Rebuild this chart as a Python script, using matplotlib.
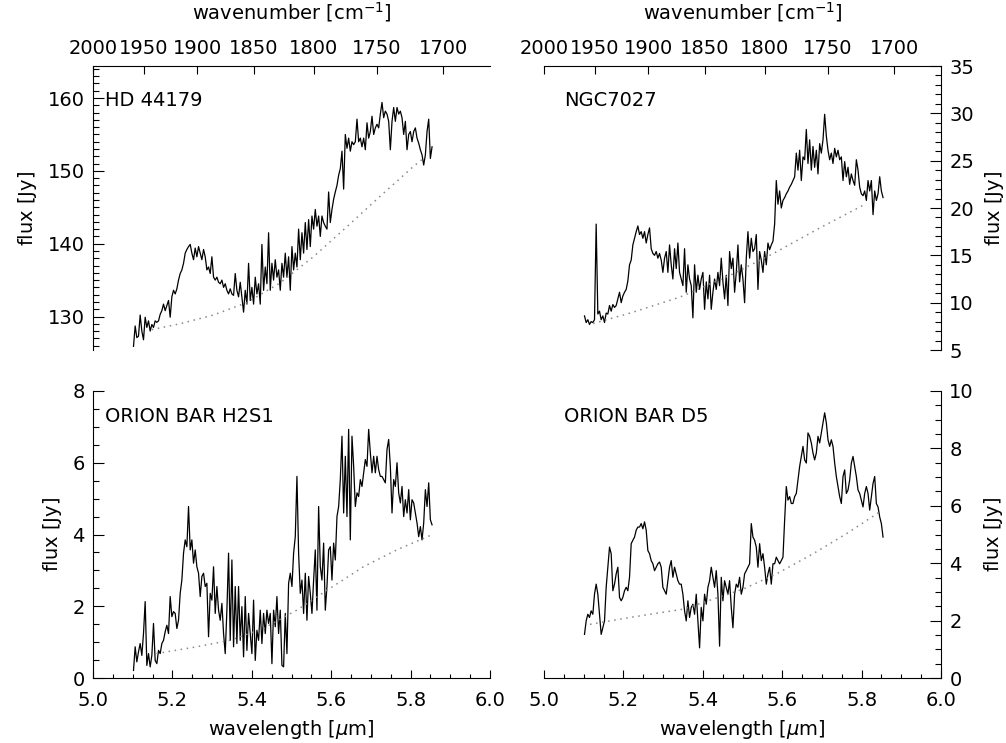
import numpy as np
import matplotlib
matplotlib.use('Agg')
import matplotlib.pyplot as plt
from matplotlib.ticker import MultipleLocator, NullLocator

# wavelength grid of the traced spectra (micron)
WAVE_START = 5.102
WAVE_END = 5.854
N_POINTS = 180

WAVENUMBERS = [2000, 1950, 1900, 1850, 1800, 1750, 1700]

FLUX_HD44179 = [
    125.9, 128.7, 127.1, 127.3, 130.2, 128.0, 126.8, 129.9, 128.5, 129.4,
    128.0, 128.9, 128.5, 129.4, 129.2, 129.4, 130.3, 130.8, 131.7, 130.8,
    131.5, 132.2, 129.9, 132.7, 133.6, 133.1, 133.8, 135.0, 135.9, 136.4,
    137.3, 138.7, 139.2, 139.6, 139.9, 138.7, 137.8, 139.4, 138.2, 139.6,
    138.7, 137.8, 139.2, 138.2, 136.4, 136.8, 135.9, 138.2, 135.4, 135.0,
    135.4, 134.7, 134.5, 135.0, 134.0, 134.5, 133.6, 133.1, 133.8, 133.1,
    132.9, 135.9, 133.6, 132.7, 134.7, 132.7, 130.6, 133.6, 131.7, 137.3,
    132.2, 134.0, 131.7, 135.4, 133.1, 134.5, 131.7, 139.9, 133.6, 136.8,
    134.5, 141.5, 133.6, 137.3, 135.0, 137.8, 135.4, 136.4, 133.6, 137.3,
    135.4, 138.7, 135.4, 138.2, 133.6, 139.6, 136.4, 138.7, 136.8, 142.0,
    137.8, 141.5, 138.7, 142.9, 139.2, 143.3, 139.6, 143.8, 142.0, 144.7,
    142.4, 143.8, 141.0, 143.8, 142.9, 142.4, 142.0, 147.1, 142.9, 144.7,
    146.1, 147.1, 148.0, 149.4, 150.3, 152.7, 147.5, 155.0, 153.1, 154.5,
    152.7, 154.0, 153.6, 154.0, 157.1, 154.0, 154.5, 153.3, 154.5, 152.9,
    156.6, 154.5, 155.4, 157.5, 155.0, 155.9, 156.4, 155.9, 157.8, 159.4,
    157.3, 158.2, 157.8, 156.8, 152.9, 156.8, 158.7, 156.8, 158.7, 157.8,
    158.2, 157.3, 155.0, 156.8, 152.9, 155.0, 155.4, 154.0, 155.4, 155.9,
    154.5, 153.8, 152.9, 152.2, 150.8, 152.2, 155.4, 157.1, 151.7, 153.3,
]
CONT_HD44179_WAVE = [5.148, 5.219, 5.303, 5.387, 5.471, 5.555, 5.639, 5.723, 5.807, 5.832]
CONT_HD44179_FLUX = [128.2, 129.0, 130.2, 131.9, 134.6, 138.2, 142.3, 146.5, 150.6, 151.7]

FLUX_NGC7027 = [
    8.6, 7.9, 8.2, 7.7, 8.0, 7.9, 8.2, 18.3, 8.8, 9.1,
    8.2, 8.6, 7.9, 8.9, 8.8, 9.7, 9.1, 9.8, 9.5, 9.7,
    10.4, 11.1, 10.0, 10.7, 11.1, 11.4, 12.3, 14.0, 14.5, 16.1,
    16.8, 17.5, 18.1, 17.2, 17.5, 16.8, 17.5, 16.3, 17.2, 17.9,
    15.7, 15.2, 15.0, 15.4, 14.7, 15.2, 14.5, 13.2, 14.7, 15.4,
    13.2, 16.1, 14.0, 12.5, 15.7, 13.6, 16.3, 13.2, 12.5, 11.8,
    15.7, 11.1, 14.0, 12.5, 11.8, 8.4, 14.0, 11.1, 12.9, 11.4,
    12.5, 13.2, 9.3, 12.2, 10.4, 12.9, 9.3, 11.1, 12.5, 11.4,
    13.2, 11.8, 14.7, 12.2, 10.4, 12.9, 9.7, 15.4, 13.6, 14.7,
    11.1, 13.2, 16.1, 12.2, 14.0, 12.5, 10.0, 14.7, 17.5, 14.7,
    16.8, 15.4, 15.7, 17.2, 11.4, 15.4, 14.5, 13.2, 15.4, 14.0,
    16.3, 15.6, 16.1, 16.5, 18.3, 22.9, 20.4, 21.8, 20.0, 20.8,
    21.1, 21.5, 21.8, 22.2, 22.5, 22.9, 23.3, 25.8, 24.0, 26.1,
    22.9, 25.4, 25.1, 28.3, 24.7, 27.2, 24.0, 26.5, 24.3, 26.1,
    23.6, 26.8, 25.8, 27.2, 29.9, 27.6, 26.1, 25.1, 25.8, 24.7,
    26.3, 25.4, 26.1, 25.1, 25.4, 22.9, 24.9, 23.3, 24.3, 22.5,
    23.6, 22.9, 22.4, 25.1, 24.0, 22.2, 21.5, 21.3, 21.8, 20.8,
    22.9, 21.8, 22.9, 19.3, 21.8, 20.8, 21.5, 23.3, 21.8, 21.1,
]
CONT_NGC7027_WAVE = [5.124, 5.217, 5.343, 5.469, 5.578, 5.695, 5.809]
CONT_NGC7027_FLUX = [7.8, 8.9, 10.6, 12.9, 15.2, 17.9, 20.4]

FLUX_H2S1 = [
    0.21, 0.87, 0.45, 0.73, 0.96, 0.63, 1.24, 2.13, 0.35, 0.68,
    0.31, 0.63, 1.52, 0.49, 0.40, 0.77, 0.68, 0.96, 1.05, 1.29,
    1.47, 1.24, 2.27, 1.71, 1.85, 1.80, 1.38, 1.61, 2.36, 2.73,
    3.48, 3.85, 3.66, 4.78, 3.57, 3.85, 3.20, 3.57, 3.10, 2.92,
    2.27, 2.83, 2.92, 2.55, 2.64, 1.15, 2.36, 2.17, 3.10, 1.80,
    2.55, 1.89, 1.61, 2.08, 1.24, 0.68, 1.89, 3.48, 1.05, 3.29,
    0.87, 2.55, 0.96, 2.55, 1.05, 1.99, 0.59, 2.27, 0.77, 1.80,
    1.24, 0.68, 2.17, 0.49, 1.33, 1.05, 1.89, 0.96, 1.80, 1.24,
    1.89, 1.52, 1.80, 0.40, 1.89, 1.43, 2.27, 1.24, 1.89, 0.35,
    0.31, 1.80, 0.68, 2.64, 2.92, 2.55, 3.48, 3.94, 5.62, 3.48,
    2.36, 2.73, 1.80, 2.92, 1.61, 2.83, 2.36, 1.80, 2.73, 3.57,
    1.89, 4.78, 3.10, 2.73, 3.76, 1.89, 2.55, 3.57, 3.66, 2.73,
    3.76, 3.29, 4.50, 4.78, 5.53, 6.74, 4.60, 6.18, 4.50, 6.93,
    3.85, 6.74, 5.90, 4.78, 5.16, 5.06, 5.53, 5.34, 5.72, 6.09,
    5.90, 6.93, 6.28, 5.72, 6.18, 5.72, 6.18, 5.81, 5.62, 5.62,
    5.53, 5.44, 6.37, 6.65, 5.90, 4.60, 5.53, 5.34, 6.00, 5.16,
    4.88, 5.34, 4.50, 4.97, 4.60, 5.25, 4.41, 4.97, 4.88, 4.60,
    4.32, 3.94, 4.22, 3.85, 4.32, 5.25, 4.78, 5.44, 4.41, 4.27,
]
CONT_H2S1_WAVE = [5.160, 5.261, 5.345, 5.429, 5.513, 5.597, 5.681, 5.765, 5.853]
CONT_H2S1_FLUX = [0.68, 0.87, 1.05, 1.38, 1.89, 2.50, 3.10, 3.57, 3.99]

FLUX_D5 = [
    1.52, 1.99, 2.22, 2.11, 2.34, 2.22, 2.92, 3.27, 2.92, 2.22,
    1.52, 1.75, 1.99, 3.16, 3.86, 4.56, 4.33, 3.04, 3.27, 3.63,
    3.86, 2.81, 2.69, 2.81, 3.04, 3.16, 3.04, 3.51, 4.68, 4.80,
    4.91, 5.15, 5.26, 5.26, 5.38, 5.20, 5.44, 5.15, 4.44, 4.33,
    4.09, 3.98, 3.74, 3.86, 3.98, 4.04, 3.86, 3.16, 3.04, 2.92,
    3.39, 3.86, 4.09, 3.51, 3.86, 3.63, 3.39, 3.27, 3.27, 2.92,
    2.34, 1.99, 2.69, 2.11, 2.46, 2.57, 2.22, 2.92, 1.99, 1.05,
    2.46, 1.99, 2.92, 2.57, 3.16, 3.39, 3.86, 3.51, 3.16, 3.74,
    2.92, 1.11, 3.51, 2.69, 3.39, 3.16, 2.92, 3.39, 2.46, 1.75,
    2.92, 3.27, 3.16, 3.51, 2.92, 3.16, 3.63, 3.74, 3.86, 3.98,
    5.38, 4.91, 4.80, 4.56, 3.86, 4.68, 4.09, 4.33, 3.86, 3.27,
    3.63, 3.86, 3.27, 3.98, 3.98, 4.21, 4.09, 3.98, 4.09, 4.21,
    5.50, 6.67, 6.20, 6.32, 6.08, 6.08, 6.32, 6.43, 6.90, 7.37,
    7.72, 8.07, 7.60, 7.49, 8.54, 8.42, 8.19, 7.84, 7.60, 7.84,
    8.42, 8.19, 8.54, 8.89, 9.24, 8.89, 8.30, 8.07, 8.30, 8.07,
    7.49, 7.02, 6.67, 6.32, 6.08, 7.02, 7.25, 6.43, 6.55, 6.90,
    7.49, 7.72, 7.37, 7.02, 6.55, 6.43, 6.20, 5.96, 6.43, 6.67,
    6.43, 5.85, 6.32, 6.78, 7.02, 6.08, 5.96, 5.61, 5.38, 4.91,
]
CONT_D5_WAVE = [5.116, 5.217, 5.351, 5.502, 5.586, 5.678, 5.762, 5.846]
CONT_D5_FLUX = [1.87, 2.11, 2.40, 3.10, 3.63, 4.33, 5.03, 5.79]

plt.rcParams['font.family'] = ['DejaVu Sans']
plt.rcParams['font.size'] = 14
plt.rcParams['mathtext.default'] = 'regular'

wave = np.linspace(WAVE_START, WAVE_END, N_POINTS)

fig = plt.figure(figsize=(10.06, 7.43), dpi=100)

W = 397 / 1006
FLUX_LABEL = r'flux $\left[ Jy \right]$'
# (left, bottom, width, height), name, flux, continuum, ylim, major, minor, top row?, right side?
panels = [
    ([93 / 1006, 1 - 350 / 743, W, 284 / 743], 'HD 44179', FLUX_HD44179,
     CONT_HD44179_WAVE, CONT_HD44179_FLUX, (125.4, 164.4), 10, 1, True, False),
    ([544 / 1006, 1 - 350 / 743, W, 284 / 743], 'NGC7027', FLUX_NGC7027,
     CONT_NGC7027_WAVE, CONT_NGC7027_FLUX, (5, 35), 5, 1, True, True),
    ([93 / 1006, 1 - 678 / 743, W, 287 / 743], 'ORION BAR H2S1', FLUX_H2S1,
     CONT_H2S1_WAVE, CONT_H2S1_FLUX, (0, 8), 2, 0.5, False, False),
    ([544 / 1006, 1 - 678 / 743, W, 287 / 743], 'ORION BAR D5', FLUX_D5,
     CONT_D5_WAVE, CONT_D5_FLUX, (0, 10), 2, 0.5, False, True),
]

for rect, name, flux, cw, cf, ylim, major, minor, top_row, right_side in panels:
    ax = fig.add_axes(rect)
    ax.plot(wave, flux, color='black', lw=0.9)
    ax.plot(cw, cf, color='#888888', lw=1.1, linestyle=(0, (1, 3)))
    ax.set_xlim(5.0, 6.0)
    ax.set_ylim(*ylim)
    ax.yaxis.set_major_locator(MultipleLocator(major))
    ax.yaxis.set_minor_locator(MultipleLocator(minor))

    for s in ax.spines.values():
        s.set_linewidth(0.8)

    if top_row:
        ax.spines['bottom'].set_visible(False)
        ax.xaxis.set_ticks_position('top')
        ax.xaxis.set_label_position('top')
        ax.set_xticks(1e4 / np.array(WAVENUMBERS))
        ax.set_xticklabels([str(w) for w in WAVENUMBERS])
        ax.xaxis.set_minor_locator(NullLocator())
        ax.set_xlabel(r'wavenumber $\left[ cm^{-1} \right]$', labelpad=14)
        ax.tick_params(axis='x', which='major', direction='in', length=6,
                       width=0.8, pad=6)
    else:
        ax.spines['top'].set_visible(False)
        ax.xaxis.set_ticks_position('bottom')
        ax.xaxis.set_major_locator(MultipleLocator(0.2))
        ax.xaxis.set_minor_locator(MultipleLocator(0.05))
        ax.xaxis.set_major_formatter(matplotlib.ticker.FormatStrFormatter('%.1f'))
        ax.set_xlabel(r'wavelength $\left[ \mathit{\mu} m \right]$', labelpad=6)
        ax.tick_params(axis='x', which='major', direction='in', length=6,
                       width=0.8, pad=9)
        ax.tick_params(axis='x', which='minor', direction='in', length=3,
                       width=0.8)

    if right_side:
        ax.spines['left'].set_visible(False)
        ax.yaxis.tick_right()
        ax.yaxis.set_label_position('right')
    else:
        ax.spines['right'].set_visible(False)
        ax.yaxis.tick_left()
    ax.set_ylabel(FLUX_LABEL, labelpad=6)
    ax.tick_params(axis='y', which='major', direction='in', length=8,
                   width=0.8, pad=6)
    ax.tick_params(axis='y', which='minor', direction='in', length=4,
                   width=0.8)

    ax.text(0.05 if right_side else 0.03, 0.88 if top_row else 0.91, name,
            transform=ax.transAxes, va='center', ha='left')

fig.savefig('out.png', dpi=100)
